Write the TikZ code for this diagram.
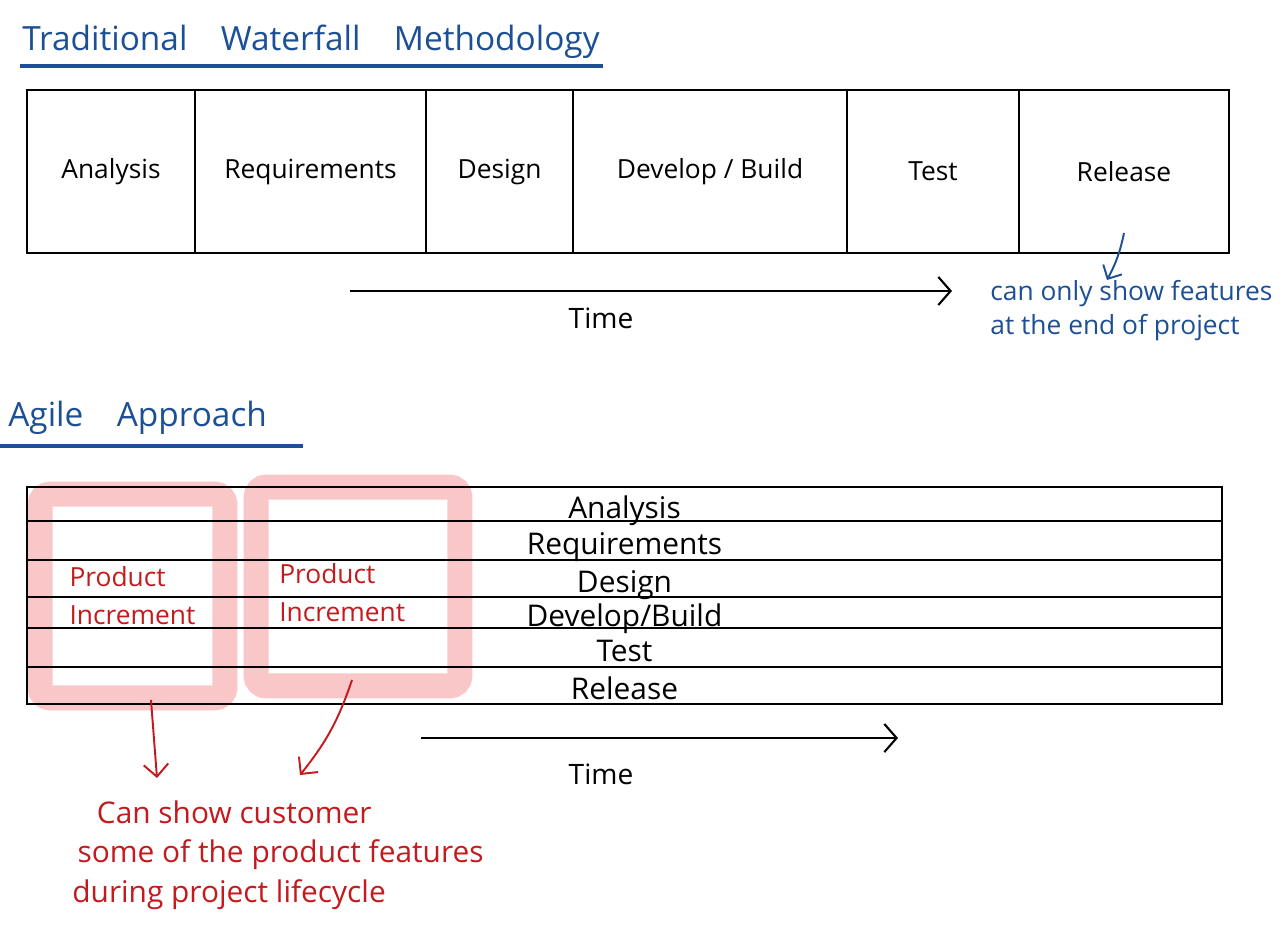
\documentclass[tikz,border=0pt]{standalone}
\usepackage{fontspec}
\setmainfont{Open Sans}
\usetikzlibrary{arrows.meta,calc}
\definecolor{inkblue}{HTML}{1C4F93}
\definecolor{inkred}{HTML}{C41A1E}
\definecolor{marker}{HTML}{F8BDBD}
\begin{document}
\begin{tikzpicture}[x=0.02cm,y=-0.02cm,
  heading/.style={inner sep=0pt, text=inkblue, font=\fontsize{19}{22}\selectfont},
  underline/.style={draw=inkblue, line width=2.2pt},
  cell/.style={draw, line width=1.2pt, minimum height=3.26cm, inner sep=0pt,
    font=\fontsize{15}{18}\selectfont},
  row/.style={draw, line width=1.2pt, minimum width=23.9cm, inner sep=0pt,
    text height=16pt, text depth=0pt, font=\fontsize{17}{19}\selectfont},
  timeline/.style={line width=1.2pt, -{Straight Barb[length=7pt,width=16pt,line width=1.2pt]}},
  timelabel/.style={inner sep=0pt, font=\fontsize{16}{18}\selectfont},
  increment/.style={draw=marker, draw opacity=0.85, line width=0.5cm, rounded corners=6pt,
    inner sep=0pt, text=inkred, align=left, font=\fontsize{15}{21.5}\selectfont},
  bluenote/.style={inner sep=0pt, text=inkblue, align=left, font=\fontsize{15}{19.3}\selectfont},
  rednote/.style={inner sep=0pt, text=inkred, align=left, font=\fontsize{17}{22.5}\selectfont},
  bluearrow/.style={draw=inkblue, line width=1.1pt, -{Straight Barb[length=6pt,width=12pt,line width=1.1pt]}},
  redarrow/.style={draw=inkred, line width=1.1pt, -{Straight Barb[length=7pt,width=14pt,line width=1.1pt]}}
]
\useasboundingbox (0,0) rectangle (1280,935);

% ---------- Traditional waterfall ----------
\node[heading, anchor=west] (wftitle) at (22,42)
  {Traditional\hspace{1em}Waterfall\hspace{1em}Methodology};
\coordinate (wfulA) at (20,66);
\coordinate (wfulB) at (603,66);
\draw[underline] (wfulA) -- (wfulB);

\node[cell, minimum width=3.36cm] (analysis) at (111,171.5) {Analysis};
\node[cell, minimum width=4.62cm] (requirements) at (310.5,171.5) {Requirements};
\node[cell, minimum width=2.94cm] (design) at (499.5,171.5) {Design};
\node[cell, minimum width=5.48cm] (develop) at (710,171.5) {Develop / Build};
\node[cell, minimum width=3.44cm] (test) at (933,171.5) {Test};
\node[cell, minimum width=4.20cm] (release) at (1124,171.5) {Release};

\coordinate (wftimeA) at (350,291);
\coordinate (wftimeB) at (952,291);
\draw[timeline] (wftimeA) -- (wftimeB);
\node[timelabel] (wftime) at (601,318) {Time};

\node[bluenote, anchor=west] (wfnote) at (990,311)
  {can only show features\\at the end of project};
\coordinate (wfnoteTail) at (1124,233);
\coordinate (wfnoteTip) at (1107,280);
\draw[bluearrow] (wfnoteTail) to[bend left=8] (wfnoteTip);

% ---------- Agile approach ----------
\node[heading, anchor=west] (agtitle) at (8,418) {Agile\hspace{1em}Approach};
\coordinate (agulA) at (0,446);
\coordinate (agulB) at (303,446);
\draw[underline] (agulA) -- (agulB);

% highlighted increments (behind the phase rows)
\node[increment, minimum width=3.7cm, minimum height=4.08cm] (inc1) at (132.5,596)
  {Product\\Increment};
\node[increment, minimum width=4.08cm, minimum height=3.98cm] (inc2) at (358,586.5)
  {\rule{0pt}{18pt}Product\\Increment\hspace*{18pt}};

\node[row, minimum height=0.68cm] (agAnalysis) at (624.5,504) {Analysis};
\node[row, minimum height=0.78cm] (agRequirements) at (624.5,540.5) {Requirements};
\node[row, minimum height=0.74cm] (agDesign) at (624.5,578.5) {Design};
\node[row, minimum height=0.62cm] (agDevelop) at (624.5,612.5) {Develop/Build};
\node[row, minimum height=0.78cm] (agTest) at (624.5,647.5) {Test};
\node[row, minimum height=0.74cm] (agRelease) at (624.5,685.5) {Release};

\coordinate (agtimeA) at (421,738);
\coordinate (agtimeB) at (898,738);
\draw[timeline] (agtimeA) -- (agtimeB);
\node[timelabel] (agtime) at (601,774) {Time};

\node[rednote, anchor=north west] (custnote) at (72,800)
  {\hspace{14pt}Can show customer\\\hspace{3pt}some of the product features\\during project lifecycle};
\coordinate (inc1Tail) at (151,700);
\coordinate (inc1Tip) at (157,778);
\coordinate (inc2Tail) at (352,680);
\coordinate (inc2Tip) at (300,775);
\draw[redarrow] (inc1Tail) -- (inc1Tip);
\draw[redarrow] (inc2Tail) to[bend left=10] (inc2Tip);
\end{tikzpicture}
\end{document}
